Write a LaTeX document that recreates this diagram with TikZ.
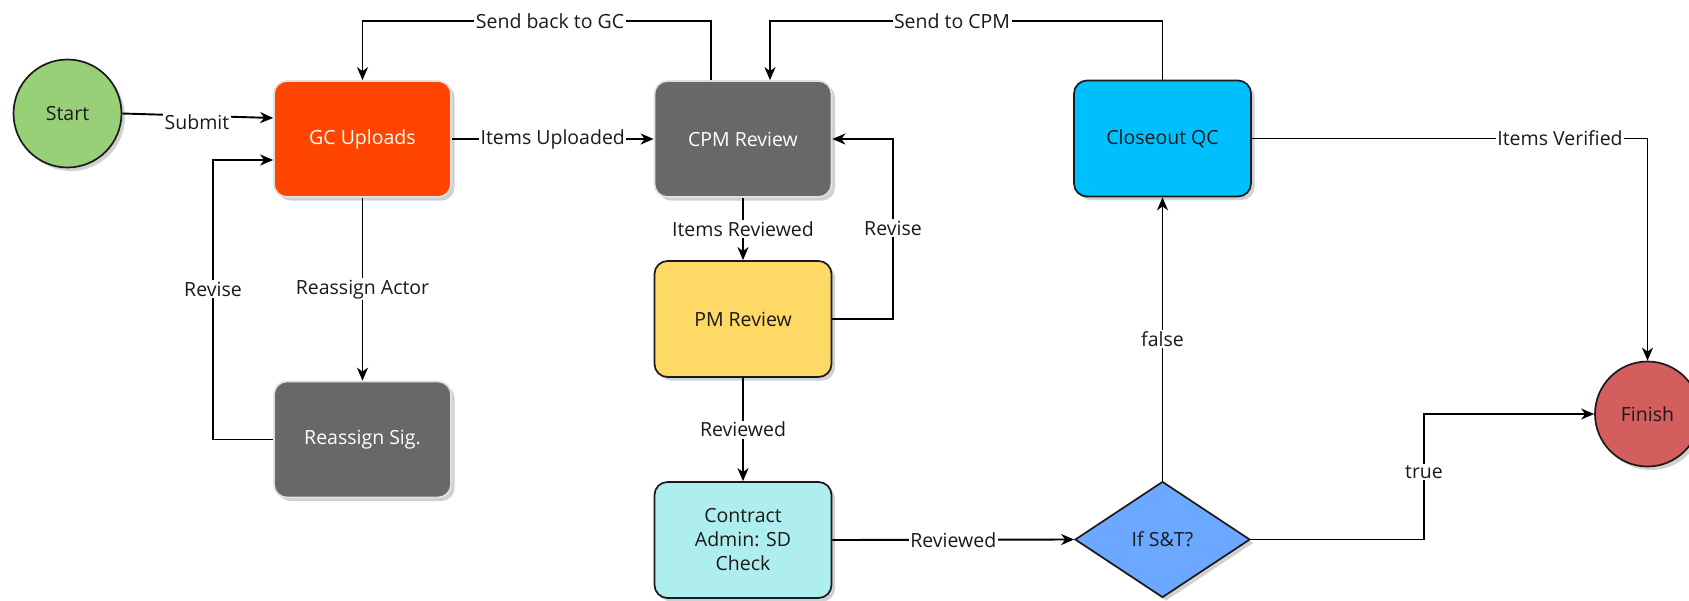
\documentclass[tikz,border=0pt]{standalone}
\usepackage{fontspec}
\setmainfont{Open Sans}
\usetikzlibrary{arrows.meta,shapes.geometric,shadows}

\definecolor{startgreen}{HTML}{97D077}
\definecolor{gcorange}{HTML}{FF4500}
\definecolor{stepgray}{HTML}{686868}
\definecolor{qcblue}{HTML}{00BFFF}
\definecolor{pmyellow}{HTML}{FFD966}
\definecolor{caturq}{HTML}{AFEEEE}
\definecolor{decblue}{HTML}{6CA8FF}
\definecolor{finishred}{HTML}{D45D5D}
\definecolor{inkdark}{HTML}{1A1A1A}

\tikzset{
  txt/.style={font=\fontsize{19.5}{24}\selectfont, align=center},
  shade/.style={drop shadow={shadow xshift=3.5pt, shadow yshift=-3.5pt, fill=black, opacity=0.18}},
  stepbox/.style={txt, shade, rounded corners=13pt, minimum width=177pt, minimum height=116pt,
    inner sep=2pt, line width=1.7pt, draw=inkdark, text=inkdark},
  lightbox/.style={stepbox, draw=white!88!black, text=white},
  roundnode/.style={txt, shade, circle, draw=inkdark, line width=1.7pt, text=inkdark,
    minimum size=#1, inner sep=0pt},
  decision/.style={txt, shade, diamond, draw=inkdark, line width=1.7pt, text=inkdark,
    minimum width=175pt, minimum height=116pt, inner sep=0pt},
  arr/.style={draw=black, line width=1.9pt, -{Stealth[length=13pt,width=11pt,inset=4pt]}},
  lbl/.style={txt, fill=white, inner sep=1.5pt, text=inkdark},
}

\begin{document}
\begin{tikzpicture}[x=1pt,y=-1pt]
  \useasboundingbox (0,0) rectangle (1689,600);

  % process nodes
  \node[roundnode=108pt, fill=startgreen] (start) at (67.5,113.5) {Start};
  \node[lightbox, fill=gcorange] (gc) at (362.5,139) {GC Uploads};
  \node[lightbox, fill=stepgray] (cpm) at (743,139) {CPM Review};
  \node[stepbox, fill=qcblue] (closeout) at (1162.5,138.5) {Closeout QC};
  \node[stepbox, fill=pmyellow] (pm) at (743,319) {PM Review};
  \node[lightbox, fill=stepgray] (reassign) at (362.5,439.5) {Reassign Sig.};
  \node[stepbox, fill=caturq] (contract) at (743,540) {Contract\\Admin: SD\\Check};
  \node[decision, fill=decblue] (dec) at (1162.5,539.5) {If S\&T?};
  \node[roundnode=105pt, fill=finishred] (finish) at (1647.5,414) {Finish};

  % connectors
  \draw[arr] (start.east) -- (gc.west |- 0,118);
  \node[lbl] (lsubmit) at (197,122) {Submit};

  \draw[arr] (gc.east) -- node[lbl] (lupl) {Items Uploaded} (cpm.west);

  \draw[arr] (gc.south) -- node[lbl] (lreassign) {Reassign Actor} (reassign.north);

  \draw[arr] (reassign.west) -| (213,160) -- (gc.west |- 0,160);
  \node[lbl] (lrevise1) at (213,289) {Revise};

  \draw[arr] (cpm.north -| 711,0) |- (362.5,21) -- (gc.north);
  \node[lbl] (lsendback) at (550,21) {Send back to GC};

  \draw[arr] (closeout.north) |- (770,21) -- (cpm.north -| 770,0);
  \node[lbl] (lsendcpm) at (952,21) {Send to CPM};

  \draw[arr] (cpm.south) -- node[lbl] (lirev) {Items Reviewed} (pm.north);

  \draw[arr] (pm.east) -| (893,139) -- (cpm.east);
  \node[lbl] (lrevise2) at (893,228) {Revise};

  \draw[arr] (pm.south) -- node[lbl] (lrev1) {Reviewed} (contract.north);

  \draw[arr] (contract.east) -- node[lbl] (lrev2) {Reviewed} (dec.west);

  \draw[arr] (dec.north) -- node[lbl] (lfalse) {false} (closeout.south);

  \draw[arr] (dec.east) -| (1424,414) -- (finish.west);
  \node[lbl] (ltrue) at (1424,472) {true};

  \draw[arr] (closeout.east) -| (finish.north);
  \node[lbl] (lverified) at (1560,138.5) {Items Verified};
\end{tikzpicture}
\end{document}
